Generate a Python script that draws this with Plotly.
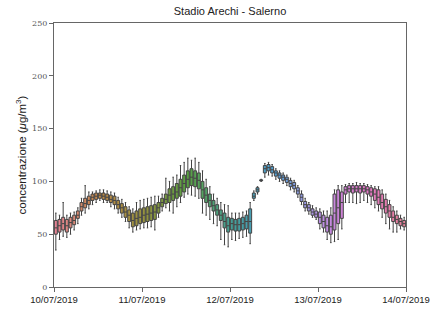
import colorsys
import plotly.graph_objects as go

# hourly box statistics, 10/07/2019 00:00 -> 13/07/2019 23:00
hours = list(range(96))
lowerfence = [35, 45, 48, 47, 50, 54, 60, 68, 70, 74, 78, 80, 82, 80, 80, 76, 74, 70, 66, 62,
              56, 52, 54, 55, 56, 56, 57, 54, 66, 72, 75, 72, 70, 76, 80, 85, 88, 87, 86, 84,
              70, 68, 64, 60, 58, 45, 40, 38, 45, 44, 46, 47, 48, 41, 82, 88, 100, 104, 106, 105,
              102, 100, 98, 96, 92, 90, 85, 78, 72, 69, 66, 64, 55, 52, 45, 42, 43, 45, 55, 80,
              80, 80, 79, 80, 82, 80, 78, 75, 72, 66, 60, 55, 52, 52, 55, 54]
q1 = [50, 52, 54, 52, 56, 59, 65, 72, 75, 78, 82, 83, 84, 83, 82, 80, 78, 74, 70, 66,
      62, 57, 58, 60, 61, 62, 63, 64, 70, 76, 79, 80, 82, 84, 86, 90, 94, 96, 95, 93,
      84, 80, 76, 72, 68, 63, 56, 52, 54, 53, 53, 54, 55, 51, 84, 90, 100.5, 108, 110, 108,
      105, 103, 101, 99, 95, 93, 88, 81, 75, 72, 68, 66, 60, 56, 52, 50, 54, 60, 65, 88,
      90, 89, 90, 89, 90, 88, 86, 82, 78, 74, 70, 66, 62, 60, 58, 57]
median = [56, 58, 60, 58, 61, 63, 68, 76, 79, 82, 85, 86, 87, 86, 85, 83, 82, 78, 75, 71,
          68, 63, 65, 66, 68, 69, 70, 71, 75, 80, 83, 87, 88, 90, 94, 98, 102, 104, 103, 101,
          92, 87, 82, 77, 73, 68, 62, 58, 60, 59, 59, 60, 62, 62, 86, 92, 101, 112, 113, 111,
          108, 106, 104, 102, 98, 96, 91, 85, 78, 75, 71, 69, 66, 62, 58, 57, 70, 75, 80, 92,
          93, 93, 93, 93, 93, 92, 90, 88, 85, 80, 76, 72, 66, 64, 62, 60]
q3 = [63, 64, 66, 64, 66, 68, 72, 80, 84, 86, 88, 89, 89, 89, 88, 87, 86, 82, 79, 76,
      73, 70, 72, 74, 75, 76, 77, 78, 80, 84, 88, 93, 95, 98, 102, 106, 110, 112, 110, 108,
      100, 94, 88, 82, 78, 73, 70, 66, 65, 64, 65, 66, 68, 74, 89, 94, 101.5, 115, 116, 114,
      110, 108, 106, 104, 101, 99, 94, 88, 81, 78, 74, 72, 71, 68, 66, 68, 88, 92, 90, 95,
      96, 96, 96, 96, 96, 95, 94, 93, 92, 88, 83, 78, 72, 68, 65, 63]
upperfence = [70, 68, 80, 68, 70, 71, 75, 84, 96, 90, 90, 91, 92, 92, 91, 90, 89, 85, 83, 80,
              76, 74, 80, 82, 83, 84, 85, 86, 86, 88, 103, 100, 104, 106, 115, 118, 122, 120, 122, 118,
              110, 102, 95, 88, 84, 80, 78, 77, 70, 70, 70, 71, 72, 80, 91, 95, 102, 117, 118, 116,
              112, 110, 108, 106, 103, 101, 96, 91, 84, 80, 77, 75, 74, 72, 72, 75, 92, 96, 96, 97,
              98, 98, 99, 98, 98, 97, 96, 95, 95, 92, 88, 82, 76, 72, 68, 66]

tick_vals = [-0.5, 23.5, 47.5, 71.5, 95.5]
tick_text = ["10/07/2019", "11/07/2019", "12/07/2019", "13/07/2019", "14/07/2019"]
y_ticks = [0, 50, 100, 150, 200, 250]

# husl-like cyclic palette, desaturated like seaborn boxplot
keys = ['#f77189', '#d58c32', '#a4a031', '#50b131', '#36ada4', '#3ba3ec', '#bb83f4', '#f564d4']


def hex2rgb(h):
    return [int(h[i:i + 2], 16) / 255 for i in (1, 3, 5)]


def palette(n):
    out = []
    k = len(keys)
    for i in range(n):
        t = i / n * k
        a = int(t) % k
        b = (a + 1) % k
        f = t - int(t)
        ca, cb = hex2rgb(keys[a]), hex2rgb(keys[b])
        c = [ca[j] * (1 - f) + cb[j] * f for j in range(3)]
        hh, ll, ss = colorsys.rgb_to_hls(*c)
        r, g, bb = colorsys.hls_to_rgb(hh, ll, ss * 0.75)
        out.append('rgb(%d,%d,%d)' % (round(r * 255), round(g * 255), round(bb * 255)))
    return out


cols = palette(len(hours))

fig = go.Figure()
for i, h in enumerate(hours):
    fig.add_trace(go.Box(
        x=[h], q1=[q1[i]], median=[median[i]], q3=[q3[i]],
        lowerfence=[lowerfence[i]], upperfence=[upperfence[i]],
        fillcolor=cols[i], line=dict(color='#444444', width=1),
        width=0.8, whiskerwidth=0.5, boxpoints=False, showlegend=False,
        hoverinfo='skip'))

fig.update_layout(
    width=434, height=311,
    margin=dict(l=54, r=28, t=23, b=24, autoexpand=False),
    plot_bgcolor='white', paper_bgcolor='white',
    title=dict(text='Stadio Arechi - Salerno', x=0.53, xanchor='center', y=0.963, yanchor='middle',
               automargin=False,
               font=dict(family='Liberation Sans, Arial', size=11, color='#222')),
    xaxis=dict(range=[-0.5, 95.5], tickvals=tick_vals, ticktext=tick_text, automargin=False,
               showgrid=False, zeroline=False, showline=True, linecolor='#666', linewidth=1,
               mirror=True, ticks='outside', ticklen=4, tickcolor='#666',
               tickfont=dict(family='Liberation Sans, Arial', size=9.5, color='#222')),
    yaxis=dict(range=[0, 250], tickvals=y_ticks, automargin=False,
               showgrid=False, zeroline=False, showline=True, linecolor='#666', linewidth=1,
               mirror=True, ticks='outside', ticklen=4, tickcolor='#666',
               tickfont=dict(family='DejaVu Serif, Liberation Serif', size=8, color='#555'),
               title=dict(text='concentrazione (<i>μ</i>g/m<sup>3</sup>)', standoff=3,
                          font=dict(family='Liberation Sans, Arial', size=11.5, color='#222'))),
)

fig.write_html("out.html", config={'displayModeBar': False},
               post_script="document.body.style.margin='0px';document.body.style.overflow='hidden';")
